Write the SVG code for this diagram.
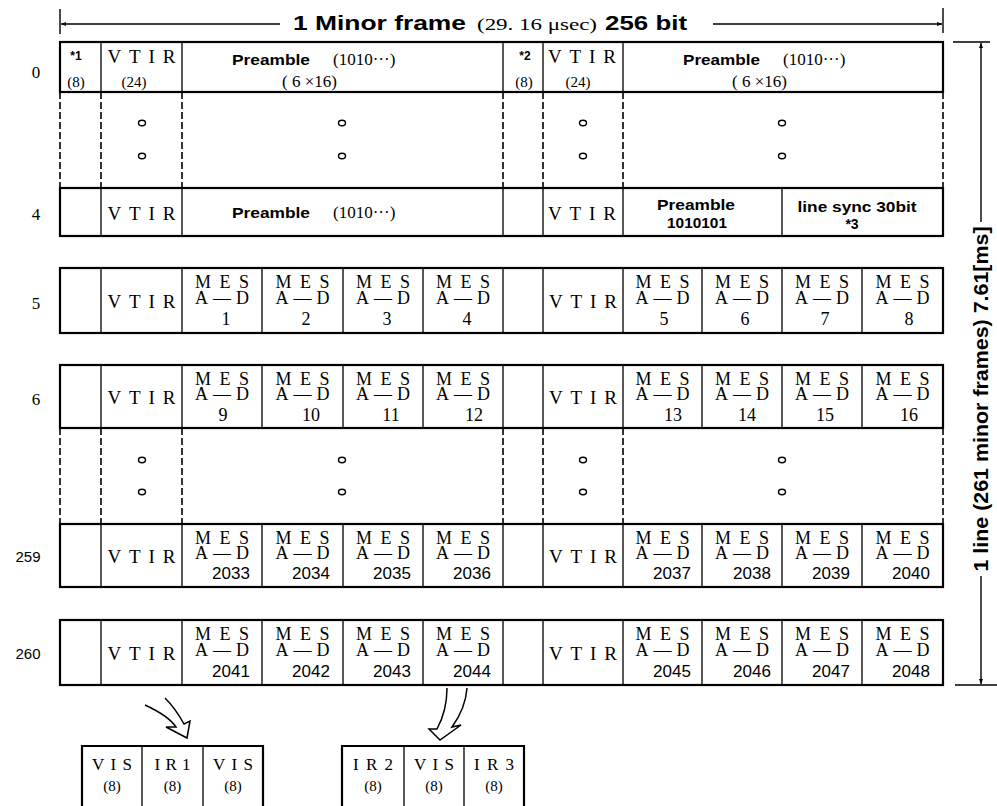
<svg xmlns="http://www.w3.org/2000/svg" width="997" height="806" viewBox="0 0 997 806">
<defs>
<style>
.bx{fill:none;stroke:#000;stroke-width:2.2}
.ln{stroke:#000;stroke-width:1.3;fill:none}
.ds{stroke:#000;stroke-width:1.6;stroke-dasharray:7 3;fill:none}
.dot{fill:none;stroke:#000;stroke-width:1.4}
.sf{font-family:"Liberation Serif","Times New Roman",serif;fill:#000}
.ss{font-family:"Liberation Sans",Arial,sans-serif;fill:#000}
.bd{font-family:"Liberation Sans",Arial,sans-serif;font-weight:bold;fill:#000}
.c{text-anchor:middle}
.v{font-size:19px}
.m{font-size:18px;text-anchor:middle}
.n{font-size:18px;text-anchor:middle}
.q{font-size:17px;text-anchor:middle}
.lab{font-size:17px;text-anchor:middle}
.p{font-size:14px}
.tick{stroke:#000;stroke-width:1.4;fill:none}
.arr{fill:none;stroke:#000;stroke-width:1.5;stroke-linejoin:miter}
</style>
<marker id="ah" viewBox="0 0 10 10" refX="10" refY="5" markerWidth="7" markerHeight="5" orient="auto-start-reverse" markerUnits="userSpaceOnUse">
<path d="M0,1 L10,5 L0,9 z" fill="#000"/>
</marker>
</defs>
<rect width="997" height="806" fill="#fff"/>

<g id="title">
<text class="bd" x="293" y="30" font-size="20" textLength="173" lengthAdjust="spacingAndGlyphs">1 Minor frame</text>
<text class="sf" x="477" y="30" font-size="16" textLength="120" lengthAdjust="spacingAndGlyphs">(29. 16 μsec)</text>
<text class="bd" x="605" y="30" font-size="20" textLength="82" lengthAdjust="spacingAndGlyphs">256 bit</text>
</g>

<g id="row-labels">
<text class="sf lab" x="36" y="78">0</text>
<text class="sf lab" x="36" y="220">4</text>
<text class="sf lab" x="36" y="309">5</text>
<text class="sf lab" x="36" y="405">6</text>
<text class="ss" x="28" y="562" font-size="15" text-anchor="middle">259</text>
<text class="ss" x="28" y="659" font-size="15" text-anchor="middle">260</text>
</g>

<g id="row-0">
<rect class="bx" x="60" y="42" width="883" height="50"/>
<path class="ln" d="M101,42V92M182,42V92M503,42V92M543,42V92M623,42V92"/>
<text class="bd c" x="76" y="60" font-size="12">*1</text>
<text class="sf c" x="76" y="87" font-size="15">(8)</text>
<text class="sf c v" x="141.5" y="63" textLength="68" lengthAdjust="spacing">VTIR</text>
<text class="sf c" x="134" y="87" font-size="15">(24)</text>
<text class="bd p" x="232" y="65" textLength="78" lengthAdjust="spacingAndGlyphs">Preamble</text>
<text class="sf" x="333" y="65" font-size="17">(1010···)</text>
<text class="sf" x="282" y="87" font-size="17">( 6 ×16)</text>
<text class="bd c" x="525" y="60" font-size="12">*2</text>
<text class="sf c" x="524" y="87" font-size="15">(8)</text>
<text class="sf c v" x="582" y="63" textLength="68" lengthAdjust="spacing">VTIR</text>
<text class="sf c" x="578" y="87" font-size="15">(24)</text>
<text class="bd p" x="683" y="65" textLength="77" lengthAdjust="spacingAndGlyphs">Preamble</text>
<text class="sf" x="783" y="65" font-size="17">(1010···)</text>
<text class="sf" x="732" y="87" font-size="17">( 6 ×16)</text>
</g>

<g id="gap-1">
<path class="ds" d="M60,92V188M101,92V188M182,92V188M503,92V188M543,92V188M623,92V188M943,92V188"/>
<ellipse class="dot" cx="142" cy="123" rx="3.5" ry="2.7"/>
<ellipse class="dot" cx="142" cy="156" rx="3.5" ry="2.7"/>
<ellipse class="dot" cx="342" cy="123" rx="3.5" ry="2.7"/>
<ellipse class="dot" cx="342" cy="156" rx="3.5" ry="2.7"/>
<ellipse class="dot" cx="583" cy="123" rx="3.5" ry="2.7"/>
<ellipse class="dot" cx="583" cy="156" rx="3.5" ry="2.7"/>
<ellipse class="dot" cx="782" cy="123" rx="3.5" ry="2.7"/>
<ellipse class="dot" cx="782" cy="156" rx="3.5" ry="2.7"/>
</g>

<g id="row-4">
<rect class="bx" x="60" y="188" width="883" height="48"/>
<path class="ln" d="M101,188V236M182,188V236M503,188V236M543,188V236M623,188V236M782,188V236"/>
<text class="sf c v" x="141.5" y="220" textLength="68" lengthAdjust="spacing">VTIR</text>
<text class="bd p" x="232" y="218" textLength="78" lengthAdjust="spacingAndGlyphs">Preamble</text>
<text class="sf" x="333" y="218" font-size="17">(1010···)</text>
<text class="sf c v" x="582" y="220" textLength="68" lengthAdjust="spacing">VTIR</text>
<text class="bd p c" x="696" y="210" textLength="78" lengthAdjust="spacingAndGlyphs">Preamble</text>
<text class="bd p c" x="697" y="228" textLength="60" lengthAdjust="spacingAndGlyphs">1010101</text>
<text class="bd p c" x="857" y="212" textLength="119" lengthAdjust="spacingAndGlyphs">line sync 30bit</text>
<text class="bd p c" x="852" y="229">*3</text>
</g>

<g id="row-5">
<rect class="bx" x="60" y="268" width="883" height="65"/>
<path class="ln" d="M101,268V333M182,268V333M262,268V333M343,268V333M423,268V333M503,268V333M543,268V333M623,268V333M702,268V333M782,268V333M862,268V333"/>
<text class="sf c v" x="141.5" y="308" textLength="68" lengthAdjust="spacing">VTIR</text>
<text class="sf c v" x="583" y="308" textLength="68" lengthAdjust="spacing">VTIR</text>
<g class="sf">
<text class="m" x="222" y="288" textLength="54" lengthAdjust="spacing">MES</text><text class="m" x="222" y="304" textLength="54" lengthAdjust="spacing">A—D</text><text class="n" x="226" y="325">1</text>
<text class="m" x="302.5" y="288" textLength="54" lengthAdjust="spacing">MES</text><text class="m" x="302.5" y="304" textLength="54" lengthAdjust="spacing">A—D</text><text class="n" x="306" y="325">2</text>
<text class="m" x="383" y="288" textLength="54" lengthAdjust="spacing">MES</text><text class="m" x="383" y="304" textLength="54" lengthAdjust="spacing">A—D</text><text class="n" x="387" y="325">3</text>
<text class="m" x="463" y="288" textLength="54" lengthAdjust="spacing">MES</text><text class="m" x="463" y="304" textLength="54" lengthAdjust="spacing">A—D</text><text class="n" x="467" y="325">4</text>
<text class="m" x="662.5" y="288" textLength="54" lengthAdjust="spacing">MES</text><text class="m" x="662.5" y="304" textLength="54" lengthAdjust="spacing">A—D</text><text class="n" x="664" y="325">5</text>
<text class="m" x="742" y="288" textLength="54" lengthAdjust="spacing">MES</text><text class="m" x="742" y="304" textLength="54" lengthAdjust="spacing">A—D</text><text class="n" x="745" y="325">6</text>
<text class="m" x="822" y="288" textLength="54" lengthAdjust="spacing">MES</text><text class="m" x="822" y="304" textLength="54" lengthAdjust="spacing">A—D</text><text class="n" x="825" y="325">7</text>
<text class="m" x="902.5" y="288" textLength="54" lengthAdjust="spacing">MES</text><text class="m" x="902.5" y="304" textLength="54" lengthAdjust="spacing">A—D</text><text class="n" x="909" y="325">8</text>
</g>
</g>

<g id="row-6">
<rect class="bx" x="60" y="365" width="883" height="63"/>
<path class="ln" d="M101,365V428M182,365V428M262,365V428M343,365V428M423,365V428M503,365V428M543,365V428M623,365V428M702,365V428M782,365V428M862,365V428"/>
<text class="sf c v" x="141.5" y="404" textLength="68" lengthAdjust="spacing">VTIR</text>
<text class="sf c v" x="583" y="404" textLength="68" lengthAdjust="spacing">VTIR</text>
<g class="sf">
<text class="m" x="222" y="385" textLength="54" lengthAdjust="spacing">MES</text><text class="m" x="222" y="400" textLength="54" lengthAdjust="spacing">A—D</text><text class="n" x="223" y="421">9</text>
<text class="m" x="302.5" y="385" textLength="54" lengthAdjust="spacing">MES</text><text class="m" x="302.5" y="400" textLength="54" lengthAdjust="spacing">A—D</text><text class="n" x="311" y="421">10</text>
<text class="m" x="383" y="385" textLength="54" lengthAdjust="spacing">MES</text><text class="m" x="383" y="400" textLength="54" lengthAdjust="spacing">A—D</text><text class="n" x="391" y="421">11</text>
<text class="m" x="463" y="385" textLength="54" lengthAdjust="spacing">MES</text><text class="m" x="463" y="400" textLength="54" lengthAdjust="spacing">A—D</text><text class="n" x="474" y="421">12</text>
<text class="m" x="662.5" y="385" textLength="54" lengthAdjust="spacing">MES</text><text class="m" x="662.5" y="400" textLength="54" lengthAdjust="spacing">A—D</text><text class="n" x="673" y="421">13</text>
<text class="m" x="742" y="385" textLength="54" lengthAdjust="spacing">MES</text><text class="m" x="742" y="400" textLength="54" lengthAdjust="spacing">A—D</text><text class="n" x="747" y="421">14</text>
<text class="m" x="822" y="385" textLength="54" lengthAdjust="spacing">MES</text><text class="m" x="822" y="400" textLength="54" lengthAdjust="spacing">A—D</text><text class="n" x="825" y="421">15</text>
<text class="m" x="902.5" y="385" textLength="54" lengthAdjust="spacing">MES</text><text class="m" x="902.5" y="400" textLength="54" lengthAdjust="spacing">A—D</text><text class="n" x="909" y="421">16</text>
</g>
</g>

<g id="gap-2">
<path class="ds" d="M60,428V524M101,428V524M182,428V524M503,428V524M543,428V524M623,428V524M943,428V524"/>
<ellipse class="dot" cx="142" cy="460" rx="3.5" ry="2.7"/>
<ellipse class="dot" cx="142" cy="492" rx="3.5" ry="2.7"/>
<ellipse class="dot" cx="342" cy="460" rx="3.5" ry="2.7"/>
<ellipse class="dot" cx="342" cy="492" rx="3.5" ry="2.7"/>
<ellipse class="dot" cx="583" cy="460" rx="3.5" ry="2.7"/>
<ellipse class="dot" cx="583" cy="492" rx="3.5" ry="2.7"/>
<ellipse class="dot" cx="782" cy="460" rx="3.5" ry="2.7"/>
<ellipse class="dot" cx="782" cy="492" rx="3.5" ry="2.7"/>
</g>

<g id="row-259">
<rect class="bx" x="60" y="524" width="883" height="63"/>
<path class="ln" d="M101,524V587M182,524V587M262,524V587M343,524V587M423,524V587M503,524V587M543,524V587M623,524V587M702,524V587M782,524V587M862,524V587"/>
<text class="sf c v" x="141.5" y="563" textLength="68" lengthAdjust="spacing">VTIR</text>
<text class="sf c v" x="583" y="563" textLength="68" lengthAdjust="spacing">VTIR</text>
<g class="sf">
<text class="m" x="222" y="544" textLength="54" lengthAdjust="spacing">MES</text><text class="m" x="222" y="559" textLength="54" lengthAdjust="spacing">A—D</text>
<text class="m" x="302.5" y="544" textLength="54" lengthAdjust="spacing">MES</text><text class="m" x="302.5" y="559" textLength="54" lengthAdjust="spacing">A—D</text>
<text class="m" x="383" y="544" textLength="54" lengthAdjust="spacing">MES</text><text class="m" x="383" y="559" textLength="54" lengthAdjust="spacing">A—D</text>
<text class="m" x="463" y="544" textLength="54" lengthAdjust="spacing">MES</text><text class="m" x="463" y="559" textLength="54" lengthAdjust="spacing">A—D</text>
<text class="m" x="662.5" y="544" textLength="54" lengthAdjust="spacing">MES</text><text class="m" x="662.5" y="559" textLength="54" lengthAdjust="spacing">A—D</text>
<text class="m" x="742" y="544" textLength="54" lengthAdjust="spacing">MES</text><text class="m" x="742" y="559" textLength="54" lengthAdjust="spacing">A—D</text>
<text class="m" x="822" y="544" textLength="54" lengthAdjust="spacing">MES</text><text class="m" x="822" y="559" textLength="54" lengthAdjust="spacing">A—D</text>
<text class="m" x="902.5" y="544" textLength="54" lengthAdjust="spacing">MES</text><text class="m" x="902.5" y="559" textLength="54" lengthAdjust="spacing">A—D</text>
</g>
<g class="ss">
<text class="q" x="231" y="579">2033</text>
<text class="q" x="311" y="579">2034</text>
<text class="q" x="392" y="579">2035</text>
<text class="q" x="472" y="579">2036</text>
<text class="q" x="672" y="579">2037</text>
<text class="q" x="752" y="579">2038</text>
<text class="q" x="831" y="579">2039</text>
<text class="q" x="911" y="579">2040</text>
</g>
</g>

<g id="row-260">
<rect class="bx" x="60" y="620" width="883" height="65"/>
<path class="ln" d="M101,620V685M182,620V685M262,620V685M343,620V685M423,620V685M503,620V685M543,620V685M623,620V685M702,620V685M782,620V685M862,620V685"/>
<text class="sf c v" x="141.5" y="660" textLength="68" lengthAdjust="spacing">VTIR</text>
<text class="sf c v" x="583" y="660" textLength="68" lengthAdjust="spacing">VTIR</text>
<g class="sf">
<text class="m" x="222" y="640" textLength="54" lengthAdjust="spacing">MES</text><text class="m" x="222" y="656" textLength="54" lengthAdjust="spacing">A—D</text>
<text class="m" x="302.5" y="640" textLength="54" lengthAdjust="spacing">MES</text><text class="m" x="302.5" y="656" textLength="54" lengthAdjust="spacing">A—D</text>
<text class="m" x="383" y="640" textLength="54" lengthAdjust="spacing">MES</text><text class="m" x="383" y="656" textLength="54" lengthAdjust="spacing">A—D</text>
<text class="m" x="463" y="640" textLength="54" lengthAdjust="spacing">MES</text><text class="m" x="463" y="656" textLength="54" lengthAdjust="spacing">A—D</text>
<text class="m" x="662.5" y="640" textLength="54" lengthAdjust="spacing">MES</text><text class="m" x="662.5" y="656" textLength="54" lengthAdjust="spacing">A—D</text>
<text class="m" x="742" y="640" textLength="54" lengthAdjust="spacing">MES</text><text class="m" x="742" y="656" textLength="54" lengthAdjust="spacing">A—D</text>
<text class="m" x="822" y="640" textLength="54" lengthAdjust="spacing">MES</text><text class="m" x="822" y="656" textLength="54" lengthAdjust="spacing">A—D</text>
<text class="m" x="902.5" y="640" textLength="54" lengthAdjust="spacing">MES</text><text class="m" x="902.5" y="656" textLength="54" lengthAdjust="spacing">A—D</text>
</g>
<g class="ss">
<text class="q" x="231" y="677">2041</text>
<text class="q" x="311" y="677">2042</text>
<text class="q" x="392" y="677">2043</text>
<text class="q" x="472" y="677">2044</text>
<text class="q" x="672" y="677">2045</text>
<text class="q" x="752" y="677">2046</text>
<text class="q" x="831" y="677">2047</text>
<text class="q" x="911" y="677">2048</text>
</g>
</g>

<g id="box-vis-ir1">
<path class="bx" d="M82,808V746H263V808"/>
<path class="ln" d="M142,746V808M203,746V808"/>
<g class="sf">
<text class="c" x="112" y="770" font-size="17" textLength="40" lengthAdjust="spacing">VIS</text>
<text class="c" x="172.5" y="770" font-size="17" textLength="36" lengthAdjust="spacing">IR1</text>
<text class="c" x="233" y="770" font-size="17" textLength="40" lengthAdjust="spacing">VIS</text>
<text class="c" x="112" y="791" font-size="15">(8)</text>
<text class="c" x="172.5" y="791" font-size="15">(8)</text>
<text class="c" x="233" y="791" font-size="15">(8)</text>
</g>
</g>

<g id="box-ir2-vis-ir3">
<path class="bx" d="M342,808V746H524V808"/>
<path class="ln" d="M404,746V808M464,746V808"/>
<g class="sf">
<text class="c" x="373" y="770" font-size="17" textLength="40" lengthAdjust="spacing">IR2</text>
<text class="c" x="434" y="770" font-size="17" textLength="40" lengthAdjust="spacing">VIS</text>
<text class="c" x="494" y="770" font-size="17" textLength="40" lengthAdjust="spacing">IR3</text>
<text class="c" x="373" y="791" font-size="15">(8)</text>
<text class="c" x="434" y="791" font-size="15">(8)</text>
<text class="c" x="494" y="791" font-size="15">(8)</text>
</g>
</g>

<g id="connectors">
<path class="tick" d="M60,9V34M943,8V33"/>
<line class="tick" x1="280" y1="24" x2="61" y2="24" marker-end="url(#ah)"/>
<line class="tick" x1="713" y1="24" x2="942" y2="24" marker-end="url(#ah)"/>
<path class="tick" d="M953,42H990M955,685H997"/>
<line class="tick" x1="981" y1="222" x2="981" y2="43" marker-end="url(#ah)"/>
<line class="tick" x1="981" y1="576" x2="981" y2="684" marker-end="url(#ah)"/>
<text class="bd" transform="translate(981,399) rotate(-90)" x="0" y="7" font-size="20" text-anchor="middle" textLength="345" lengthAdjust="spacingAndGlyphs">1 line (261 minor frames) 7.61[ms]</text>
<path class="arr" d="M145,705 C158,711 170,718 176,727 L166,727 L187,738 L190,721 L184,724 C178,713 172,705 165,698"/>
<path class="arr" d="M447,688 C447,703 443,718 437,729 L429,729 L440,740 L461,725 L452,727 C460,716 466,702 467,688"/>
</g>
</svg>
